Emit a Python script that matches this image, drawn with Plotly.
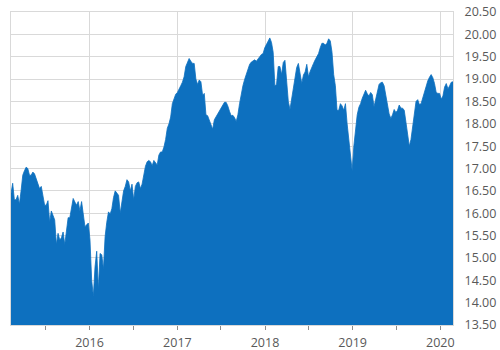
import pandas as pd
import plotly.graph_objects as go

start_date = "2015-02-08"
values = [
    16.44, 16.67, 16.30, 16.30, 16.40, 16.20, 16.50, 16.85, 16.95, 17.03,
    17.00, 16.85, 16.85, 16.92, 16.88, 16.77, 16.65, 16.55, 16.60, 16.40,
    16.18, 16.18, 16.28, 15.80, 16.05, 15.95, 15.85, 15.30, 15.55, 15.40,
    15.45, 15.58, 15.30, 15.60, 15.90, 15.90, 16.10, 16.33, 16.25, 16.18,
    16.26, 16.05, 16.26, 15.95, 15.70, 15.74, 15.78, 15.40, 14.50, 14.15,
    14.80, 15.15, 14.30, 15.10, 15.07, 14.75, 15.48, 15.80, 16.03, 15.98,
    16.10, 16.35, 16.50, 16.45, 16.40, 16.00, 16.30, 16.50, 16.60, 16.75,
    16.70, 16.50, 16.65, 16.30, 16.60, 16.68, 16.70, 16.55, 16.65, 16.85,
    17.05, 17.15, 17.18, 17.15, 17.06, 17.18, 17.12, 17.08, 17.30, 17.37,
    17.37, 17.48, 17.65, 17.90, 18.00, 18.15, 18.45, 18.57, 18.66, 18.70,
    18.76, 18.85, 18.93, 19.05, 19.28, 19.38, 19.46, 19.40, 19.35, 19.35,
    19.00, 18.88, 18.98, 18.94, 18.64, 18.68, 18.20, 18.18, 18.07, 17.95,
    17.88, 18.09, 18.16, 18.23, 18.29, 18.35, 18.43, 18.48, 18.48, 18.40,
    18.28, 18.18, 18.19, 18.14, 18.05, 18.20, 18.45, 18.68, 18.85, 18.99,
    19.10, 19.22, 19.33, 19.38, 19.41, 19.43, 19.40, 19.44, 19.50, 19.55,
    19.57, 19.70, 19.78, 19.86, 19.92, 19.82, 19.60, 18.85, 18.88, 19.28,
    19.28, 19.10, 19.37, 19.42, 18.88, 18.50, 18.32, 18.57, 18.75, 18.97,
    19.26, 19.35, 19.14, 18.90, 19.09, 19.16, 19.33, 19.05, 19.17, 19.28,
    19.35, 19.43, 19.50, 19.57, 19.70, 19.80, 19.80, 19.76, 19.80, 19.90,
    19.85, 19.60, 19.10, 18.85, 18.30, 18.30, 18.45, 18.40, 18.30, 18.45,
    18.00, 17.65, 17.35, 16.95, 17.50, 17.88, 18.20, 18.37, 18.45, 18.57,
    18.68, 18.75, 18.67, 18.62, 18.70, 18.65, 18.38, 18.55, 18.77, 18.88,
    18.92, 18.93, 18.85, 18.62, 18.45, 18.22, 18.12, 18.20, 18.32, 18.25,
    18.30, 18.42, 18.35, 18.35, 18.30, 18.05, 17.72, 17.50, 17.65, 17.98,
    18.30, 18.50, 18.54, 18.43, 18.45, 18.59, 18.70, 18.82, 18.96, 19.04,
    19.10, 19.03, 18.90, 18.70, 18.68, 18.68, 18.55, 18.62, 18.82, 18.90,
    18.78, 18.85, 18.93, 18.94,
]
dates = pd.date_range(start_date, periods=len(values), freq="7D")

y_ticks = [13.5 + 0.5 * k for k in range(15)]
x_range = [dates[0], dates[-1]]

color = "#0D70BF"
grid = "#D9D9D9"
label_color = "#595959"

fig = go.Figure()
fig.add_trace(go.Scatter(
    x=dates, y=values, mode="lines", fill="tozeroy",
    line=dict(color=color, width=0.8), fillcolor=color,
    hoverinfo="x+y", showlegend=False,
))

fig.update_layout(
    width=500, height=350,
    margin=dict(l=11, r=47, t=12, b=25),
    paper_bgcolor="white", plot_bgcolor="white",
    font=dict(family="Open Sans, sans-serif", size=12.5, color=label_color),
    showlegend=False,
)
fig.update_xaxes(
    range=x_range, type="date", automargin=False,
    tick0="2016-01-01", dtick="M12", tickformat="%Y",
    showgrid=True, gridcolor=grid, gridwidth=1,
    ticks="outside", ticklen=4, tickcolor="#8C8C8C",
    ticklabelstandoff=2,
    minor=dict(dtick="M6", tick0="2016-01-01", ticks="outside", ticklen=4,
               tickcolor="#8C8C8C", showgrid=False),
    showline=True, linecolor=grid, linewidth=1, mirror=True,
    zeroline=False,
)
fig.update_yaxes(
    range=[13.5, 20.5], side="right", automargin=False,
    tickvals=y_ticks, tickformat=".2f",
    showgrid=True, gridcolor=grid, gridwidth=1,
    ticks="", ticklabelstandoff=8,
    showline=True, linecolor=grid, linewidth=1, mirror=True,
    zeroline=False,
)

fig.write_html("out.html")
